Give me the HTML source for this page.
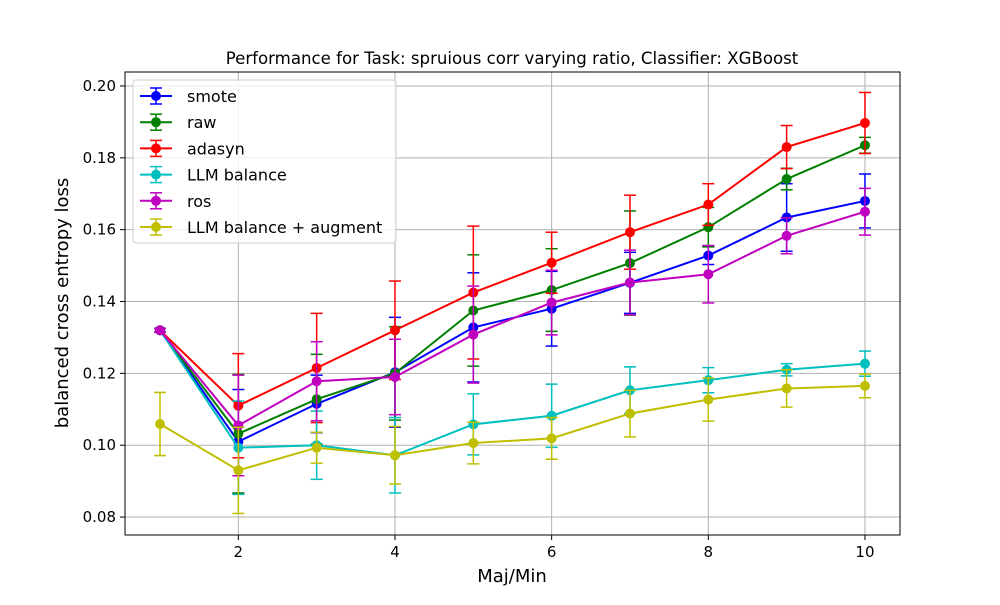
<!DOCTYPE html>
<html><head><meta charset="utf-8"><style>
body{margin:0;background:#fff;font-family:"Liberation Sans","DejaVu Sans",sans-serif}
svg text{font-family:"DejaVu Sans","Liberation Sans",sans-serif}
</style></head><body>
<svg id="chart" width="1000" height="600" xmlns="http://www.w3.org/2000/svg">
<rect width="1000" height="600" fill="#fff"/>
<g id="grid"></g><g id="series"></g><g id="axes"></g><g id="legend"></g>
<text x="512" y="64" font-size="16.6" text-anchor="middle">Performance for Task: spruious corr varying ratio, Classifier: XGBoost</text>
<text x="512" y="582" font-size="18" text-anchor="middle">Maj/Min</text>
<text transform="translate(68,303) rotate(-90)" font-size="18" text-anchor="middle">balanced cross entropy loss</text>
</svg>
<script>
const xs=[1,2,3,4,5,6,7,8,9,10];
const xTicks=[2,4,6,8,10];
const yTicks=[0.08,0.10,0.12,0.14,0.16,0.18,0.20];
const names=["smote","raw","adasyn","LLM balance","ros","LLM balance + augment"];
const colors=["#0000ff","#008000","#ff0000","#00bfbf","#bf00bf","#bfbf00"];
const smote=[.132,.101,.1115,.1203,.1328,.138,.1452,.1528,.1634,.168];
const smoteErr=[.0005,.0145,.008,.0153,.0152,.0104,.0085,.0025,.0094,.0075];
const raw=[.132,.1032,.1128,.120,.1375,.1432,.1507,.1607,.1741,.1835];
const rawErr=[.0006,.0165,.0125,.013,.0155,.0115,.0145,.0055,.003,.0022];
const adasyn=[.132,.111,.1215,.132,.1425,.1508,.1593,.167,.183,.1897];
const adasynErr=[.0005,.0145,.0152,.0137,.0185,.0085,.0103,.0058,.006,.0085];
const llm=[.132,.0993,.1,.0972,.1058,.1082,.1153,.1181,.121,.1227];
const llmErr=[.0005,.013,.0095,.0105,.0085,.0088,.0065,.0035,.0017,.0035];
const ros=[.132,.1055,.1178,.119,.1308,.1397,.1453,.1476,.1583,.165];
const rosErr=[.0005,.014,.011,.0105,.0135,.009,.009,.008,.005,.0065];
const llmAug=[.1059,.093,.0993,.0972,.1006,.1019,.1088,.1127,.1158,.1165];
const llmAugErr=[.0088,.012,.0043,.008,.0058,.0058,.0065,.006,.0052,.0033];
const vals=[smote,raw,adasyn,llm,ros,llmAug];
const errs=[smoteErr,rawErr,adasynErr,llmErr,rosErr,llmAugErr];
const L=125,R=900,T=72,B=535;
const X=v=>160+(v-1)*78.33;
const Y=v=>86+(0.20-v)*3592;
const NS="http://www.w3.org/2000/svg";
function mk(t,a,p){const e=document.createElementNS(NS,t);for(const k in a)e.setAttribute(k,a[k]);p.appendChild(e);return e;}
const grid=document.getElementById('grid'),axes=document.getElementById('axes'),ser=document.getElementById('series'),leg=document.getElementById('legend');
xTicks.forEach(t=>{const g=mk('line',{x1:X(t),x2:X(t),y1:T,y2:B,stroke:'#b0b0b0','stroke-width':1},grid);


mk('line',{x1:X(t),x2:X(t),y1:B,y2:B+5,stroke:'#000'},axes);
const tx=mk('text',{x:X(t),y:B+22,'font-size':15,'text-anchor':'middle'},axes);tx.textContent=t;

});
yTicks.forEach(t=>{const g=mk('line',{x1:L,x2:R,y1:Y(t),y2:Y(t),stroke:'#b0b0b0','stroke-width':1},grid);


mk('line',{x1:L-5,x2:L,y1:Y(t),y2:Y(t),stroke:'#000'},axes);
const tx=mk('text',{x:L-9,y:Y(t)+5,'font-size':15,'text-anchor':'end'},axes);tx.textContent=t.toFixed(2);

});
const fr=mk('rect',{x:L,y:T,width:R-L,height:B-T,fill:'none',stroke:'#000','stroke-width':1},axes);


vals.forEach((s,i)=>{const g=mk('g',{},ser);


const c=colors[i];
s.forEach((v,j)=>{const x=X(xs[j]),e=errs[i][j];
mk('line',{x1:x,x2:x,y1:Y(v+e),y2:Y(v-e),stroke:c,'stroke-width':1.5},g);
mk('line',{x1:x-6,x2:x+6,y1:Y(v+e),y2:Y(v+e),stroke:c,'stroke-width':1.5},g);
mk('line',{x1:x-6,x2:x+6,y1:Y(v-e),y2:Y(v-e),stroke:c,'stroke-width':1.5},g);});
mk('polyline',{points:s.map((v,j)=>X(xs[j])+','+Y(v)).join(' '),fill:'none',stroke:c,'stroke-width':2},g);
s.forEach((v,j)=>{const p=mk('circle',{cx:X(xs[j]),cy:Y(v),r:5,fill:c},g);

});});
const lb=mk('rect',{x:133,y:80,width:263,height:163,rx:3,fill:'#fff','fill-opacity':0.8,stroke:'#ccc'},leg);


names.forEach((n,i)=>{const y=96+i*26.2,c=colors[i];
const g=mk('g',{},leg);


mk('line',{x1:140,x2:172,y1:y,y2:y,stroke:c,'stroke-width':2},g);
mk('line',{x1:156,x2:156,y1:y-8,y2:y+8,stroke:c,'stroke-width':1.5},g);
mk('line',{x1:150,x2:162,y1:y-8,y2:y-8,stroke:c,'stroke-width':1.5},g);
mk('line',{x1:150,x2:162,y1:y+8,y2:y+8,stroke:c,'stroke-width':1.5},g);
mk('circle',{cx:156,cy:y,r:5,fill:c},g);
const t=mk('text',{x:187,y:y+6,'font-size':16},g);t.textContent=n;});
</script>
</body></html>
